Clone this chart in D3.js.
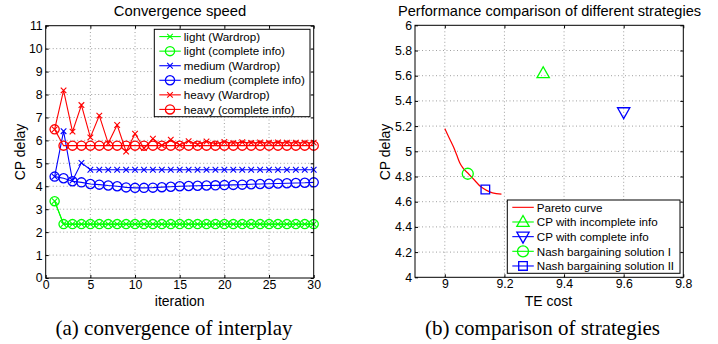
<!DOCTYPE html>
<meta charset="utf-8">
<style>
body { margin: 0; background: #fff; }
svg { display: block; }
text { font-family: "Liberation Sans", Arial, sans-serif; fill: #000; }
.caption { font-family: "Liberation Serif", "Times New Roman", serif; font-size: 21px; }
.grid line { stroke: #888; stroke-width: 0.8px; stroke-dasharray: 1,2.5; }
.frame { fill: none; stroke: #000; stroke-width: 1px; }
.ticklab { font-size: 12.3px; }
</style>
<svg width="718" height="344"></svg>
<script src="https://d3js.org/d3.v7.min.js"></script>
<script>

// ---- left panel: convergence of interplay ----
var iterations = d3.range(1, 31);
var lightWardrop = [3.35, 2.35, 2.35, 2.35, 2.35, 2.35, 2.35, 2.35, 2.35, 2.35, 2.35, 2.35, 2.35, 2.35, 2.35,
  2.35, 2.35, 2.35, 2.35, 2.35, 2.35, 2.35, 2.35, 2.35, 2.35, 2.35, 2.35, 2.35, 2.35, 2.35];
var lightComplete = [3.35, 2.35, 2.35, 2.35, 2.35, 2.35, 2.35, 2.35, 2.35, 2.35, 2.35, 2.35, 2.35, 2.35, 2.35,
  2.35, 2.35, 2.35, 2.35, 2.35, 2.35, 2.35, 2.35, 2.35, 2.35, 2.35, 2.35, 2.35, 2.35, 2.35];
var mediumWardrop = [4.42, 6.4, 4.25, 5.02, 4.72, 4.72, 4.72, 4.72, 4.72, 4.72, 4.72, 4.72, 4.72, 4.72, 4.72,
  4.72, 4.72, 4.72, 4.72, 4.72, 4.72, 4.72, 4.72, 4.72, 4.72, 4.72, 4.72, 4.72, 4.72, 4.72];
var mediumComplete = [4.42, 4.35, 4.22, 4.17, 4.1, 4.07, 4.03, 4.0, 3.95, 3.93, 3.93, 3.94, 3.96, 3.98, 4.0,
  4.01, 4.02, 4.03, 4.04, 4.05, 4.06, 4.07, 4.09, 4.1, 4.11, 4.12, 4.13, 4.14, 4.15, 4.17];
var heavyWardrop = [6.48, 8.18, 6.38, 7.54, 6.13, 7.08, 5.87, 6.67, 5.51, 6.29, 5.66, 6.07, 5.78, 6.03, 5.8,
  5.97, 5.83, 5.95, 5.86, 5.93, 5.88, 5.92, 5.89, 5.91, 5.9, 5.91, 5.9, 5.9, 5.9, 5.9];
var heavyComplete = [6.48, 5.77, 5.77, 5.77, 5.77, 5.77, 5.77, 5.77, 5.77, 5.77, 5.77, 5.77, 5.77, 5.77, 5.77,
  5.77, 5.77, 5.77, 5.77, 5.77, 5.77, 5.77, 5.77, 5.77, 5.77, 5.77, 5.77, 5.77, 5.77, 5.77];
var leftXTicks = [0, 5, 10, 15, 20, 25, 30];
var leftYTicks = [0, 1, 2, 3, 4, 5, 6, 7, 8, 9, 10, 11];

// ---- right panel: comparison of strategies ----
var paretoTE = [9.0, 9.01, 9.02, 9.03, 9.04, 9.05, 9.06, 9.08, 9.10, 9.12, 9.14, 9.16, 9.19];
var paretoCP = [5.18, 5.13, 5.08, 5.03, 4.97, 4.91, 4.87, 4.82, 4.77, 4.72, 4.69, 4.67, 4.66];
var incompleteInfo = [9.33, 5.62];
var completeInfo = [9.6, 5.31];
var nashOne = [9.077, 4.822];
var nashTwo = [9.136, 4.697];
var rightXTicks = [9, 9.2, 9.4, 9.6, 9.8];
var rightYTicks = [4, 4.2, 4.4, 4.6, 4.8, 5, 5.2, 5.4, 5.6, 5.8, 6];

var svg = d3.select("svg");

// marker shapes, drawn around 0,0
function markerPath(kind, s) {
  if (kind == "x") return "M" + (-s) + "," + (-s) + "L" + s + "," + s + "M" + (-s) + "," + s + "L" + s + "," + (-s);
  if (kind == "up") return "M0," + (-s * 1.15) + "L" + (s * 1.1) + "," + (s * 0.8) + "L" + (-s * 1.1) + "," + (s * 0.8) + "Z";
  if (kind == "down") return "M0," + (s * 1.15) + "L" + (s * 1.1) + "," + (-s * 0.8) + "L" + (-s * 1.1) + "," + (-s * 0.8) + "Z";
  if (kind == "square") return "M" + (-s) + "," + (-s) + "H" + s + "V" + s + "H" + (-s) + "Z";
  return d3.arc()({innerRadius: 0, outerRadius: s, startAngle: 0, endAngle: 2 * Math.PI});
}

function drawMarker(g, kind, size, color, x, y) {
  g.append("path")
    .attr("d", markerPath(kind, size))
    .attr("transform", "translate(" + x + "," + y + ")")
    .attr("fill", "none")
    .attr("stroke", color)
    .attr("stroke-width", kind == "x" ? 1.1 : 1.3);
}

function makeAxes(g, x, y, xticks, yticks, xfmt, yfmt) {
  var x0 = x.range()[0], x1 = x.range()[1], y0 = y.range()[0], y1 = y.range()[1];
  var grid = g.append("g").attr("class", "grid");
  grid.selectAll(".gx").data(xticks.filter(function(t) { return x(t) > x0 + 1 && x(t) < x1 - 1; }))
    .enter().append("line")
      .attr("x1", function(d) { return x(d); }).attr("x2", function(d) { return x(d); })
      .attr("y1", y0).attr("y2", y1);
  grid.selectAll(".gy").data(yticks.filter(function(t) { return y(t) < y0 - 1 && y(t) > y1 + 1; }))
    .enter().append("line")
      .attr("y1", function(d) { return y(d); }).attr("y2", function(d) { return y(d); })
      .attr("x1", x0).attr("x2", x1);

  // inward ticks on all four sides, labels only bottom/left
  var bottom = g.append("g").attr("transform", "translate(0," + y0 + ")")
    .call(d3.axisBottom(x).tickValues(xticks).tickFormat(xfmt).tickSizeInner(-3).tickSizeOuter(0).tickPadding(2));
  var top = g.append("g").attr("transform", "translate(0," + y1 + ")")
    .call(d3.axisTop(x).tickValues(xticks).tickFormat("").tickSizeInner(-3).tickSizeOuter(0));
  var left = g.append("g").attr("transform", "translate(" + x0 + ",0)")
    .call(d3.axisLeft(y).tickValues(yticks).tickFormat(yfmt).tickSizeInner(-3).tickSizeOuter(0).tickPadding(3));
  var right = g.append("g").attr("transform", "translate(" + x1 + ",0)")
    .call(d3.axisRight(y).tickValues(yticks).tickFormat("").tickSizeInner(-3).tickSizeOuter(0));
  [bottom, top, left, right].forEach(function(a) {
    a.select(".domain").remove();
    a.selectAll("line").attr("stroke", "#000");
    a.selectAll("text").attr("class", "ticklab").attr("font-family", null).attr("font-size", null).attr("fill", "#000");
  });
}

function frame(g, x, y) {
  g.append("rect").attr("class", "frame")
    .attr("x", x.range()[0]).attr("y", y.range()[1])
    .attr("width", x.range()[1] - x.range()[0])
    .attr("height", y.range()[0] - y.range()[1]);
}

function legend(g, bx, by, bw, bh, items) {
  g.append("rect").attr("x", bx).attr("y", by).attr("width", bw).attr("height", bh)
    .attr("fill", "#fff").attr("stroke", "#000").attr("stroke-width", 1);
  var step = bh / items.length;
  items.forEach(function(it, i) {
    var cy = by + step * (i + 0.5);
    g.append("line").attr("x1", bx + 5).attr("x2", bx + 26.5).attr("y1", cy).attr("y2", cy)
      .attr("stroke", it.color).attr("stroke-width", 1.1);
    if (it.marker) drawMarker(g, it.marker, it.size, it.color, bx + 15.7, cy);
    g.append("text").attr("x", bx + 29.5).attr("y", cy + 4.2)
      .attr("font-size", "11.6px").text(it.label);
  });
}

// ============ left chart ============
var gl = svg.append("g");
var xl = d3.scaleLinear().domain([0, 30]).range([45.7, 313.7]);
var yl = d3.scaleLinear().domain([0, 11]).range([278, 25.7]);

makeAxes(gl, xl, yl, leftXTicks, leftYTicks, d3.format("d"), d3.format("d"));

var leftSeries = [
  {values: lightWardrop, color: "#00ff00", marker: "x", size: 2.8, label: "light (Wardrop)"},
  {values: lightComplete, color: "#00ff00", marker: "circle", size: 4.6, label: "light (complete info)"},
  {values: mediumWardrop, color: "#0000ff", marker: "x", size: 2.8, label: "medium (Wardrop)"},
  {values: mediumComplete, color: "#0000ff", marker: "circle", size: 4.6, label: "medium (complete info)"},
  {values: heavyWardrop, color: "#ff0000", marker: "x", size: 2.8, label: "heavy (Wardrop)"},
  {values: heavyComplete, color: "#ff0000", marker: "circle", size: 4.6, label: "heavy (complete info)"}
];

var lineL = d3.line().x(function(d) { return xl(d[0]); }).y(function(d) { return yl(d[1]); });

leftSeries.forEach(function(s) {
  var pts = iterations.map(function(it, i) { return [it, s.values[i]]; });
  gl.append("path").attr("d", lineL(pts)).attr("fill", "none")
    .attr("stroke", s.color).attr("stroke-width", 1.1);
  pts.forEach(function(p) { drawMarker(gl, s.marker, s.size, s.color, xl(p[0]), yl(p[1])); });
});

frame(gl, xl, yl);
legend(gl, 154.3, 29.3, 155.7, 87.4, leftSeries);

gl.append("text").attr("x", 180).attr("y", 15.5).attr("text-anchor", "middle")
  .attr("font-size", "14.8px").text("Convergence speed");
gl.append("text").attr("x", 179.7).attr("y", 305.5).attr("text-anchor", "middle")
  .attr("font-size", "14px").text("iteration");
gl.append("text").attr("transform", "translate(25,152) rotate(-90)").attr("text-anchor", "middle")
  .attr("font-size", "14px").text("CP delay");
gl.append("text").attr("class", "caption").attr("x", 174).attr("y", 335).attr("text-anchor", "middle")
  .text("(a) convergence of interplay");

// ============ right chart ============
var gr = svg.append("g");
var xr = d3.scaleLinear().domain([8.9, 9.8]).range([415, 683.3]);
var yr = d3.scaleLinear().domain([4, 6]).range([277.3, 25.3]);

makeAxes(gr, xr, yr, rightXTicks, rightYTicks, function(d) { return d3.format("")(+d.toFixed(1)); },
  function(d) { return d3.format("")(+d.toFixed(1)); });

var lineR = d3.line().x(function(d) { return xr(d[0]); }).y(function(d) { return yr(d[1]); })
  .curve(d3.curveMonotoneX);
gr.append("path").attr("d", lineR(paretoTE.map(function(t, i) { return [t, paretoCP[i]]; })))
  .attr("fill", "none").attr("stroke", "#ff0000").attr("stroke-width", 1.2);

var rightItems = [
  {point: null, color: "#ff0000", marker: null, size: 0, label: "Pareto curve"},
  {point: incompleteInfo, color: "#00ff00", marker: "up", size: 5.6, label: "CP with incomplete info"},
  {point: completeInfo, color: "#0000ff", marker: "down", size: 5.6, label: "CP with complete info"},
  {point: nashOne, color: "#00ff00", marker: "circle", size: 5.5, label: "Nash bargaining solution I"},
  {point: nashTwo, color: "#0000ff", marker: "square", size: 4.3, label: "Nash bargaining solution II"}
];
rightItems.forEach(function(it) {
  if (it.point) drawMarker(gr, it.marker, it.size, it.color, xr(it.point[0]), yr(it.point[1]));
});

frame(gr, xr, yr);
legend(gr, 507.3, 200, 172.7, 73.3, rightItems);

gr.append("text").attr("x", 549.5).attr("y", 15.5).attr("text-anchor", "middle")
  .attr("font-size", "14.6px").text("Performance comparison of different strategies");
gr.append("text").attr("x", 548.5).attr("y", 305.5).attr("text-anchor", "middle")
  .attr("font-size", "14px").text("TE cost");
gr.append("text").attr("transform", "translate(390,152) rotate(-90)").attr("text-anchor", "middle")
  .attr("font-size", "14px").text("CP delay");
gr.append("text").attr("class", "caption").attr("x", 542.5).attr("y", 335).attr("text-anchor", "middle")
  .text("(b) comparison of strategies");

</script>
